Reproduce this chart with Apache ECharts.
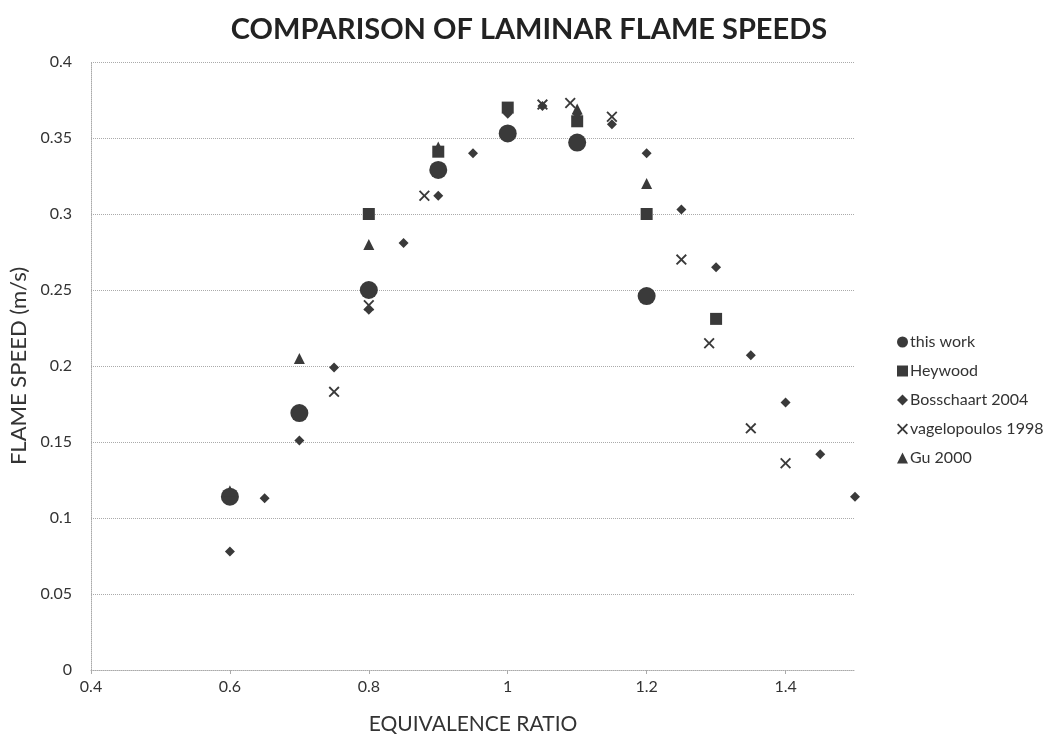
<!DOCTYPE html>
<html><head><meta charset="utf-8">
<script src="https://cdn.jsdelivr.net/npm/echarts@6/dist/echarts.min.js"></script>
<style>html,body{margin:0;padding:0;background:#fff}#c{width:1044px;height:740px}</style>
</head><body><div id="c"></div>
<script>
const seriesNames = ["this work", "Heywood", "Bosschaart 2004", "vagelopoulos 1998", "Gu 2000"];
const thisWork = [[0.6,0.114],[0.7,0.169],[0.8,0.25],[0.9,0.329],[1.0,0.353],[1.1,0.347],[1.2,0.246]];
const heywood = [[0.8,0.30],[0.9,0.341],[1.0,0.370],[1.1,0.361],[1.2,0.300],[1.3,0.231]];
const bosschaart = [[0.6,0.078],[0.65,0.113],[0.7,0.151],[0.75,0.199],[0.8,0.237],[0.85,0.281],[0.9,0.312],[0.95,0.340],[1.0,0.366],[1.05,0.371],[1.1,0.366],[1.15,0.359],[1.2,0.340],[1.25,0.303],[1.3,0.265],[1.35,0.207],[1.4,0.176],[1.45,0.142],[1.5,0.114]];
const vagelopoulos = [[0.75,0.183],[0.8,0.240],[0.88,0.312],[1.05,0.372],[1.09,0.373],[1.15,0.364],[1.25,0.270],[1.29,0.215],[1.35,0.159],[1.4,0.136]];
const gu = [[0.6,0.118],[0.7,0.205],[0.8,0.280],[0.9,0.344],[1.1,0.369],[1.2,0.320]];

const FONT = "Lato";
const C = "#3a3a3a";
const cross = "path://M0,0.12 L0.12,0 L0.5,0.38 L0.88,0 L1,0.12 L0.62,0.5 L1,0.88 L0.88,1 L0.5,0.62 L0.12,1 L0,0.88 L0.38,0.5 Z";
const chart = echarts.init(document.getElementById('c'), null, {renderer:'canvas'});
const mk = (name, data, symbol, size) => ({name, type:'scatter', data, symbol, symbolSize:size, itemStyle:{color:C, opacity:1}, z: 2});
chart.setOption({
  animation:false,
  backgroundColor:'#fff',
  title:{text:'COMPARISON OF LAMINAR FLAME SPEEDS', left:524, textAlign:'center', top:10,
    textStyle:{fontFamily:FONT, fontSize:29, fontWeight:'bold', color:'#222'}},
  grid:{left:91, right:189, top:62, bottom:70, containLabel:false, outerBoundsMode:'none'},
  legend:{orient:'vertical', left:892, top:329, itemGap:13, itemWidth:11, itemHeight:11,
    textStyle:{fontFamily:FONT, fontSize:16, color:'#333', padding:[0,0,0,-3]},
    data:[{name:seriesNames[0], icon:'circle'},{name:seriesNames[1], icon:'rect'},{name:seriesNames[2], icon:'diamond'},{name:seriesNames[3], icon:cross},{name:seriesNames[4], icon:'triangle'}]},
  xAxis:{type:'value', min:0.4, max:1.5, interval:0.2,
    name:'EQUIVALENCE RATIO', nameLocation:'middle', nameGap:44,
    nameTextStyle:{fontFamily:FONT, fontSize:21, color:'#333'},
    axisLine:{show:true, lineStyle:{color:'#aaa', type:'dotted'}},
    axisTick:{show:true, length:4, lineStyle:{color:'#aaa'}},
    splitLine:{show:false},
    axisLabel:{fontFamily:FONT, fontSize:16, color:'#333', margin:9, showMaxLabel:false,
      formatter:v=>String(+v.toFixed(1))}},
  yAxis:{type:'value', min:0, max:0.4, interval:0.05,
    name:'FLAME SPEED (m/s)', nameLocation:'middle', nameGap:60, nameRotate:90,
    nameTextStyle:{fontFamily:FONT, fontSize:22, color:'#333'},
    axisLine:{show:true, lineStyle:{color:'#aaa', type:'dotted'}},
    axisTick:{show:false},
    splitLine:{show:true, lineStyle:{color:'#aaa', type:'dotted'}},
    axisLabel:{fontFamily:FONT, fontSize:16, color:'#333', margin:19,
      formatter:v=>String(+v.toFixed(2))}},
  series:[
    mk(seriesNames[0], thisWork, 'circle', 18),
    mk(seriesNames[1], heywood, 'rect', 12),
    mk(seriesNames[2], bosschaart, 'diamond', 10),
    mk(seriesNames[3], vagelopoulos, cross, 11),
    mk(seriesNames[4], gu, 'triangle', 11)
  ]
});
</script></body></html>
